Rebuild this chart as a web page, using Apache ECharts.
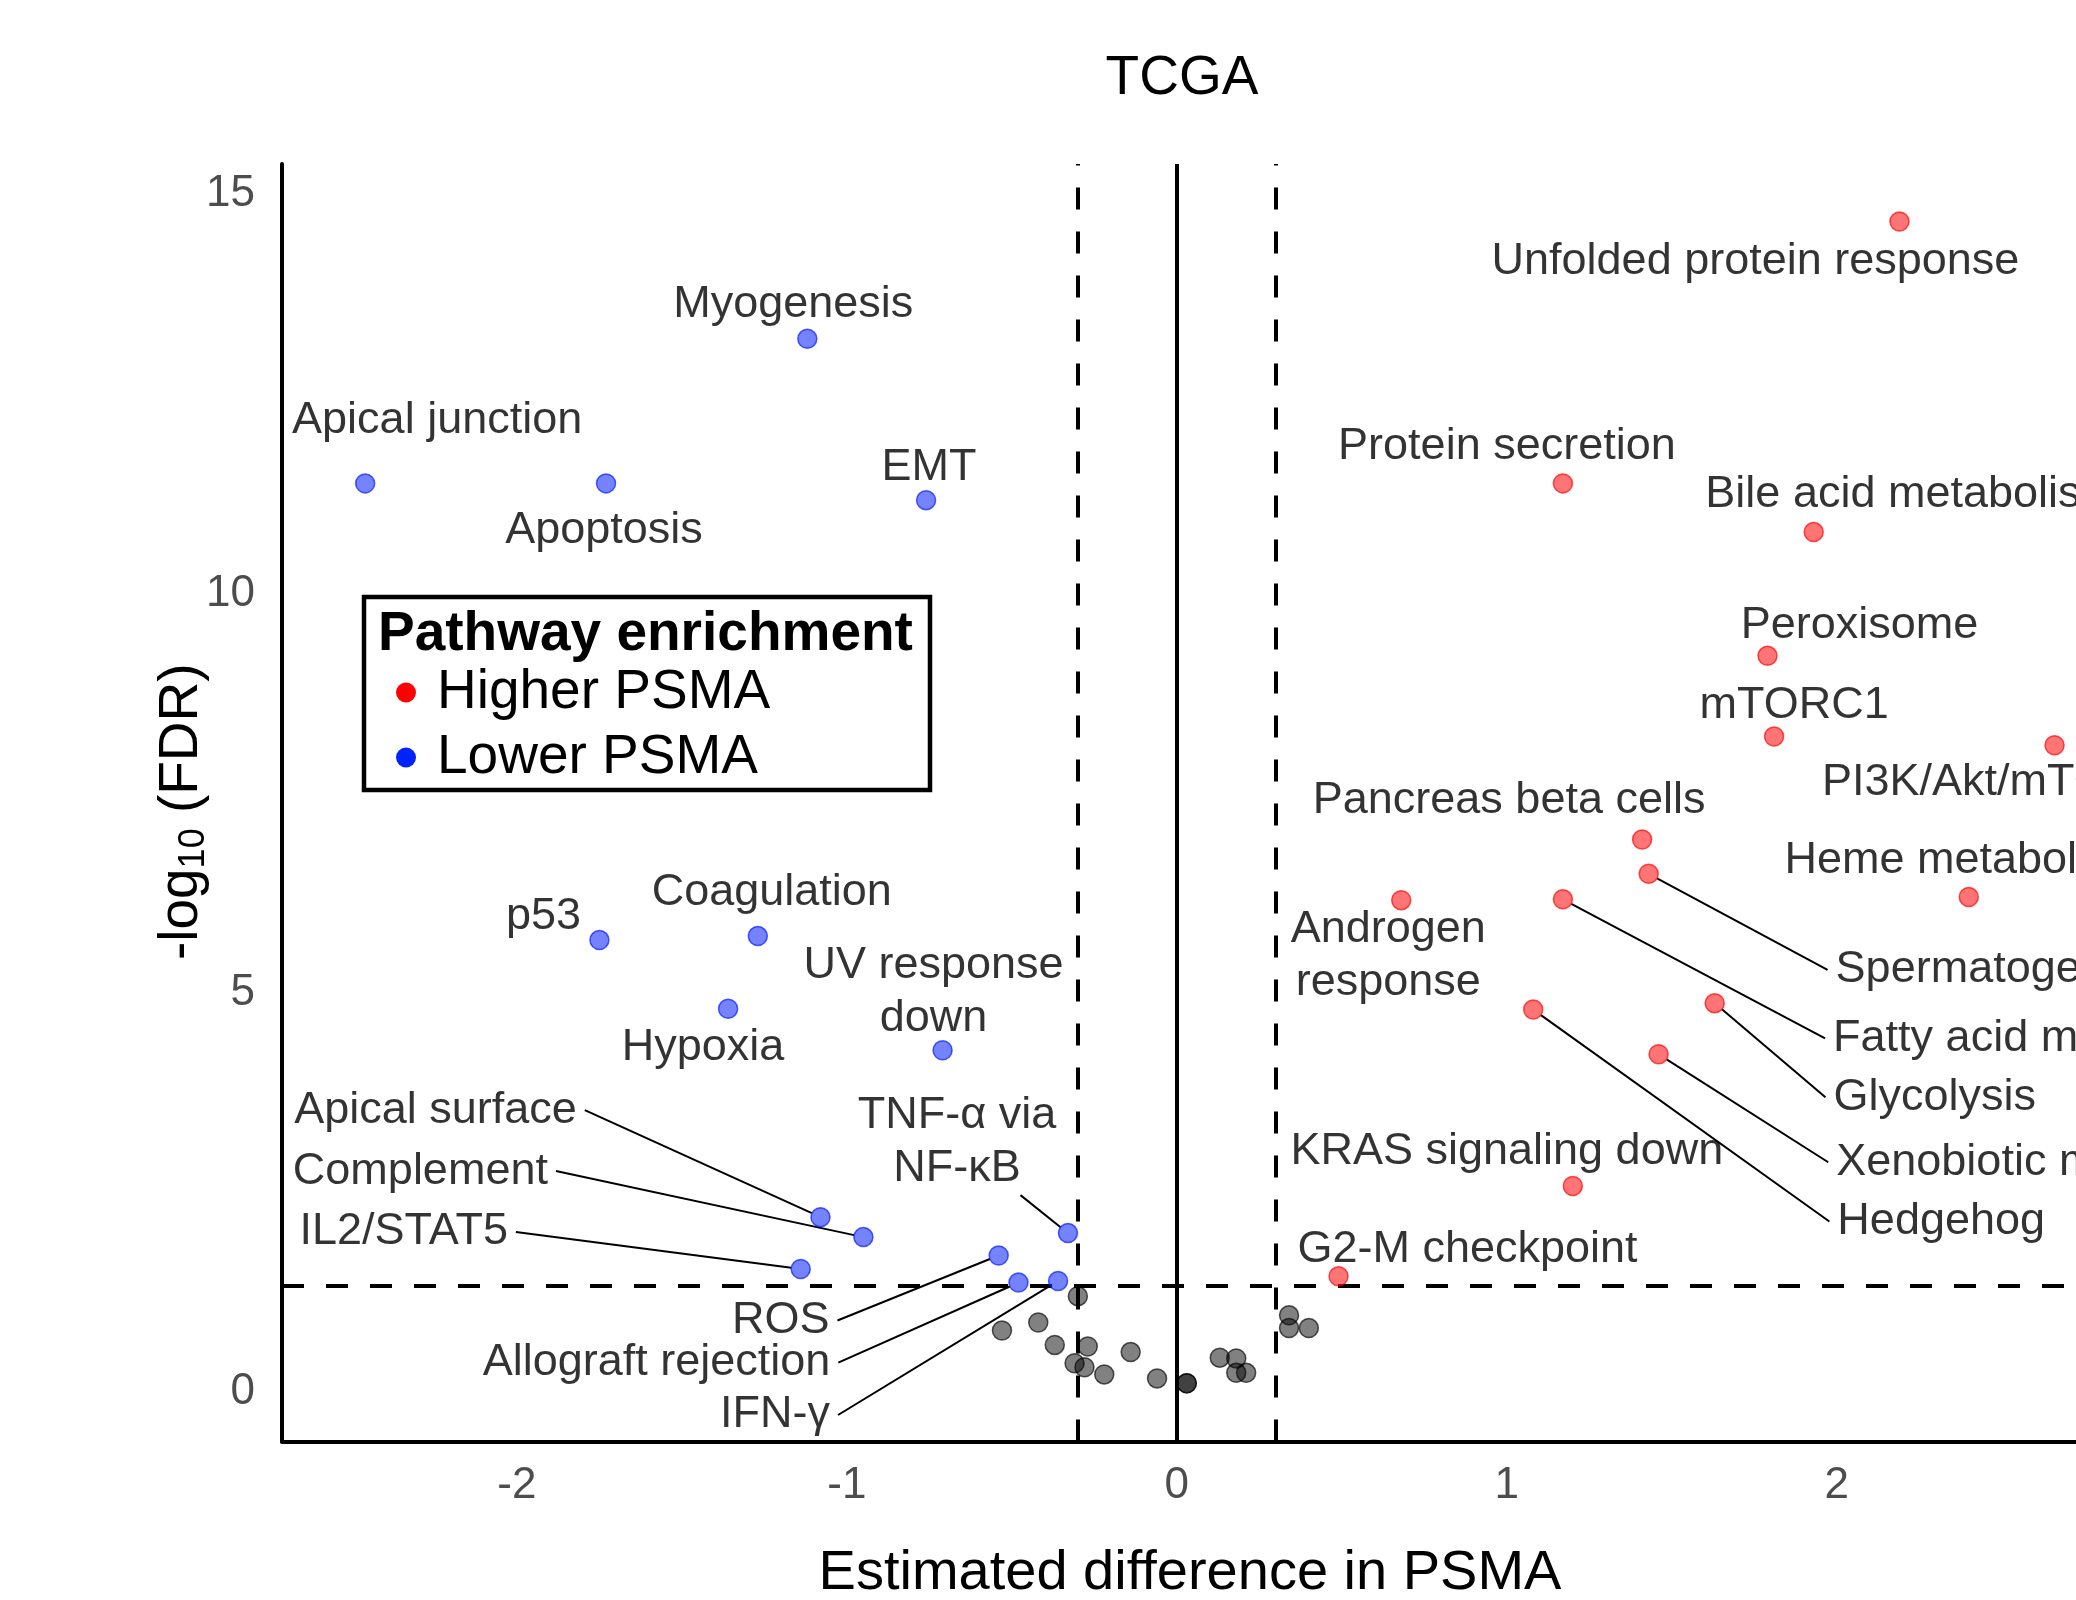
<!DOCTYPE html>
<html>
<head>
<meta charset="utf-8">
<title>TCGA</title>
<script src="https://cdn.jsdelivr.net/npm/echarts@6/dist/echarts.min.js"></script>
<style>
  html, body { margin: 0; padding: 0; background: #fff; }
  #chart { width: 2076px; height: 1600px; }
</style>
</head>
<body>
<div id="chart"></div>
<script>
// pathways enriched with higher PSMA
const higherNames = ['Unfolded protein response', 'Protein secretion', 'Bile acid metabolism', 'Peroxisome',
  'mTORC1', 'PI3K/Akt/mTOR', 'Pancreas beta cells', 'Spermatogenesis', 'Heme metabolism',
  'Androgen\nresponse', 'Fatty acid metabolism', 'Glycolysis', 'Xenobiotic metabolism', 'Hedgehog',
  'KRAS signaling down', 'G2-M checkpoint'];
const higherX = [2.19, 1.17, 1.93, 1.79, 1.81, 2.66, 1.41, 1.43, 2.40, 0.68, 1.17, 1.63, 1.46, 1.08, 1.20, 0.49];
const higherY = [14.66, 11.38, 10.77, 9.22, 8.21, 8.10, 6.92, 6.49, 6.20, 6.16, 6.17, 4.87, 4.23, 4.79, 2.58, 1.45];

// pathways enriched with lower PSMA
const lowerNames = ['Apical junction', 'Apoptosis', 'Myogenesis', 'EMT', 'p53', 'Coagulation', 'Hypoxia',
  'UV response\ndown', 'Apical surface', 'Complement', 'IL2/STAT5', 'TNF-α via\nNF-κB', 'ROS',
  'Allograft rejection', 'IFN-γ'];
const lowerX = [-2.46, -1.73, -1.12, -0.76, -1.75, -1.27, -1.36, -0.71, -1.08, -0.95, -1.14, -0.33, -0.54, -0.48, -0.36];
const lowerY = [11.38, 11.38, 13.19, 11.17, 5.66, 5.71, 4.80, 4.28, 2.19, 1.94, 1.54, 1.99, 1.71, 1.37, 1.39];

// not significant
const nsX = [-0.30, -0.53, -0.42, -0.37, -0.27, -0.31, -0.28, -0.22, -0.14, -0.06, 0.03, 0.03, 0.13, 0.18, 0.18, 0.21, 0.34, 0.34, 0.40];
const nsY = [1.20, 0.77, 0.87, 0.59, 0.57, 0.36, 0.31, 0.22, 0.50, 0.17, 0.11, 0.11, 0.43, 0.42, 0.24, 0.24, 0.96, 0.80, 0.80];

const fcCut = 0.3;
const fdrCut = 1.33;
const xTicks = [-2, -1, 0, 1, 2];
const yTicks = [0, 5, 10, 15];

// label placement (px from the point), like ggrepel put them
const labelOffset = {
  'Apical junction': [72, -66], 'Apoptosis': [-2, 44], 'Myogenesis': [-14, -37], 'EMT': [3, -36],
  'p53': [-56, -26], 'Coagulation': [14, -46], 'Hypoxia': [-25, 36], 'UV response\ndown': [-9, -61],
  'Apical surface': [-385, -110], 'Complement': [-443, -69], 'IL2/STAT5': [-397, -40],
  'TNF-α via\nNF-κB': [-111, -94], 'ROS': [-218, 62], 'Allograft rejection': [-362, 77], 'IFN-γ': [-283, 131],
  'Unfolded protein response': [-144, 37], 'Protein secretion': [-56, -40], 'Bile acid metabolism': [98, -40],
  'Peroxisome': [92, -33], 'mTORC1': [20, -34], 'PI3K/Akt/mTOR': [-73, 34], 'Pancreas beta cells': [-133, -42],
  'Spermatogenesis': [362, 93], 'Heme metabolism': [-3, -39], 'Androgen\nresponse': [-13, 53],
  'Fatty acid metabolism': [489, 136], 'Glycolysis': [220, 91], 'Xenobiotic metabolism': [404, 105],
  'Hedgehog': [408, 209], 'KRAS signaling down': [-66, -37], 'G2-M checkpoint': [129, -30]
};
const leaderLines = ['Apical surface', 'Complement', 'IL2/STAT5', 'TNF-α via\nNF-κB', 'ROS', 'Allograft rejection',
  'IFN-γ', 'Spermatogenesis', 'Fatty acid metabolism', 'Glycolysis', 'Xenobiotic metabolism', 'Hedgehog'];
// extra right padding so the guide line leaves from under the text
const extraPadRight = { 'TNF-α via\nNF-κB': 127 };

const FONT = '"Liberation Sans", Arial, Helvetica, sans-serif';

const toPoints = (names, xs, ys) => xs.map((x, i) => {
  const item = {
    name: names ? names[i] : '',
    value: [x, ys[i]],
    labelLine: { show: !!names && leaderLines.includes(names[i]) }
  };
  if (names && extraPadRight[names[i]]) {
    item.label = { padding: [0, 8 + extraPadRight[names[i]], 0, 8] };
  }
  return item;
});

const pointLabel = {
  show: true,
  position: 'inside',
  formatter: '{b}',
  color: '#000',
  textBorderWidth: 0,
  fontFamily: FONT,
  fontSize: 45,
  lineHeight: 53,
  align: 'center',
  padding: [0, 8]
};
const guideLine = { lineStyle: { color: '#000', width: 2 } };
const layoutFor = names => p => {
  const name = names[p.dataIndex];
  const off = labelOffset[name] || [0, 0];
  const shift = (extraPadRight[name] || 0) / 2;
  return { dx: off[0] + shift, dy: off[1] + 3 };
};

const chart = echarts.init(document.getElementById('chart'), null, { renderer: 'canvas' });

const option = {
  animation: false,
  backgroundColor: '#fff',
  textStyle: { fontFamily: FONT },
  title: {
    text: 'TCGA',
    left: 1177,
    top: 46,
    textAlign: 'center',
    textStyle: { fontFamily: FONT, fontSize: 55, fontWeight: 'normal', color: '#000' }
  },
  grid: { left: 282, top: 164, right: 0, height: 1277.5, outerBoundsMode: 'none', containLabel: false },
  xAxis: {
    type: 'value',
    min: -2.712,
    max: 2.725,
    name: 'Estimated difference in PSMA',
    nameLocation: 'middle',
    nameGap: 104,
    nameMoveOverlap: false,
    nameTextStyle: { fontFamily: FONT, fontSize: 56, color: '#000', padding: [0, 0, 0, 22] },
    axisLine: { show: true, onZero: false, lineStyle: { color: '#000', width: 4 } },
    axisTick: { show: false },
    splitLine: { show: false },
    axisLabel: {
      customValues: xTicks,
      formatter: v => (xTicks.includes(v) ? String(v) : ''),
      margin: 22,
      fontFamily: FONT, fontSize: 44, color: '#4d4d4d'
    }
  },
  yAxis: {
    type: 'value',
    min: -0.62,
    max: 15.38,
    name: '-log{sub|10} (FDR)',
    nameLocation: 'middle',
    nameGap: 70,
    nameMoveOverlap: false,
    nameTextStyle: {
      fontFamily: FONT, fontSize: 55, color: '#000', padding: [0, 18, 0, 0],
      rich: { sub: { fontFamily: FONT, fontSize: 36, color: '#000', padding: [24, 0, 0, 0] } }
    },
    axisLine: { show: true, onZero: false, lineStyle: { color: '#000', width: 4 } },
    axisTick: { show: false },
    splitLine: { show: false },
    axisLabel: {
      customValues: yTicks,
      formatter: v => (yTicks.includes(v) ? String(v) : ''),
      margin: 27,
      verticalAlign: 'middle',
      lineHeight: 44,
      padding: [10, 0, 0, 0],
      fontFamily: FONT, fontSize: 44, color: '#4d4d4d'
    }
  },
  legend: {
    orient: 'vertical',
    left: 391,
    top: 660,
    padding: 5,
    itemWidth: 20,
    itemHeight: 20,
    itemGap: 10,
    selectedMode: false,
    textStyle: { fontFamily: FONT, fontSize: 55, color: '#000', padding: [0, 0, 0, 16] },
    data: [
      { name: 'Higher PSMA', icon: 'circle', itemStyle: { color: '#ff0000', borderWidth: 0, opacity: 1 } },
      { name: 'Lower PSMA', icon: 'circle', itemStyle: { color: '#0022ff', borderWidth: 0, opacity: 1 } }
    ]
  },
  graphic: [
    {
      type: 'rect',
      shape: { x: 364, y: 597, width: 566, height: 193 },
      style: { fill: 'none', stroke: '#000', lineWidth: 4.5 },
      z: 10
    },
    {
      type: 'text',
      x: 378,
      y: 635,
      style: {
        text: 'Pathway enrichment',
        fontFamily: FONT, fontSize: 55, fontWeight: 'bold',
        fill: '#000', verticalAlign: 'middle'
      },
      z: 10
    }
  ],
  series: [
    {
      name: 'Not significant',
      type: 'scatter',
      symbolSize: 19,
      itemStyle: { color: 'rgba(0,0,0,0.62)', borderColor: 'rgba(0,0,0,0.82)', borderWidth: 1.5 },
      data: toPoints(null, nsX, nsY),
      z: 2,
      markLine: {
        silent: true,
        symbol: 'none',
        z: 1,
        animation: false,
        label: { show: false },
        lineStyle: { color: '#000', width: 4, type: [22, 22] },
        data: [
          { xAxis: 0, lineStyle: { type: 'solid', color: '#000', width: 4 } },
          { xAxis: -fcCut },
          { xAxis: fcCut },
          { yAxis: fdrCut }
        ]
      }
    },
    {
      name: 'Lower PSMA',
      type: 'scatter',
      symbolSize: 19,
      itemStyle: { color: 'rgba(0,25,255,0.68)', borderColor: 'rgba(0,25,255,0.85)', borderWidth: 1.5 },
      data: toPoints(lowerNames, lowerX, lowerY),
      label: pointLabel,
      labelLine: guideLine,
      labelLayout: layoutFor(lowerNames),
      z: 3
    },
    {
      name: 'Higher PSMA',
      type: 'scatter',
      symbolSize: 19,
      itemStyle: { color: 'rgba(255,0,0,0.68)', borderColor: 'rgba(255,0,0,0.85)', borderWidth: 1.5 },
      data: toPoints(higherNames, higherX, higherY),
      label: pointLabel,
      labelLine: guideLine,
      labelLayout: layoutFor(higherNames),
      z: 3
    }
  ]
};

chart.setOption(option);
window.addEventListener('resize', () => chart.resize());
</script>
</body>
</html>
